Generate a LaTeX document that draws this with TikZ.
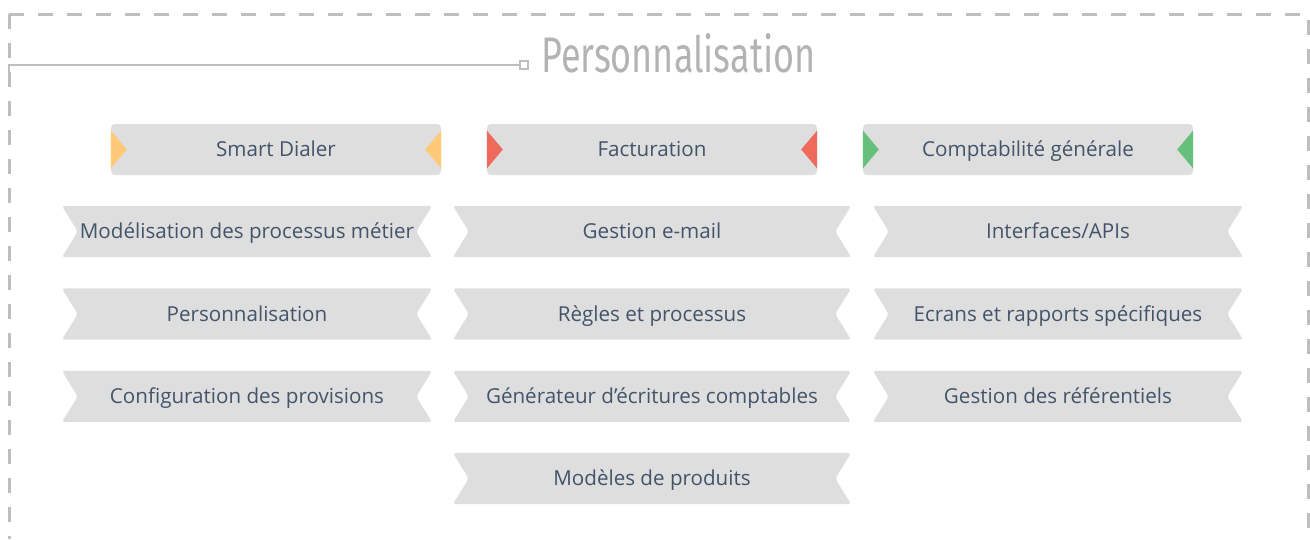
\documentclass[tikz,border=0pt]{standalone}
\usepackage{fontspec}
\setmainfont{Open Sans}
\newfontfamily\titlefont[FakeStretch=0.72]{Fira Sans}
\usetikzlibrary{backgrounds}
\definecolor{boxgray}{HTML}{DEDEDE}
\definecolor{linegray}{HTML}{BEBEBE}
\definecolor{titlegray}{HTML}{B3B3B3}
\definecolor{txtslate}{HTML}{43546A}
\definecolor{dialeryellow}{HTML}{FFC978}
\definecolor{factred}{HTML}{EE6B5B}
\definecolor{comptagreen}{HTML}{66BF7B}
\tikzset{
  headbox/.style={fill=boxgray, rounded corners=4, minimum width=330, minimum height=51, inner sep=0, text height=14.7, text depth=0, text=txtslate, font=\fontsize{20.6}{24}\selectfont},
  ribbon/.style={minimum height=51, inner sep=0, text height=14.7, text depth=0, text=txtslate, font=\fontsize{20.6}{24}\selectfont},
  frame/.style={linegray, line width=3, dash pattern=on 15 off 14}
}
\newcommand{\ribbonbox}[4]{
\node [ribbon, minimum width=#3] (#1) at (#2) {#4};
\begin{pgfonlayer}{background}
\fill [boxgray, rounded corners=3] (#1.north west) -- (#1.north east) -- ([xshift=-16]#1.east) -- (#1.south east) -- (#1.south west) -- ([xshift=16]#1.west) -- cycle;
\end{pgfonlayer}
}
\newcommand{\tabs}[2]{
\fill [#2] ([yshift=19]#1.west) -- ([xshift=16]#1.west) -- ([yshift=-19]#1.west) -- cycle;
\fill [#2] ([yshift=19]#1.east) -- ([xshift=-16]#1.east) -- ([yshift=-19]#1.east) -- cycle;
}
\begin{document}
\begin{tikzpicture}[x=1pt, y=-1pt]
\useasboundingbox (0,0) rectangle (1310,539);
\draw [frame] (9,14) -- (9,539);
\draw [frame] (9,14) -- (1308,14) -- (1308,539);
\node [anchor=base west, inner sep=0, text=titlegray, font=\titlefont\fontsize{50}{50}\selectfont] (title) at (541,72) {Personnalisation};
\node [draw=linegray, line width=2, fill=white, minimum size=8, inner sep=0] (knot) at (524,65) {};
\coordinate (corner) at (9,75);
\draw [linegray, line width=2.5] (corner) |- (knot.west);
\node [headbox] (dialer) at (276,149.5) {Smart Dialer};
\node [headbox] (factu) at (652,149.5) {Facturation};
\node [headbox] (compta) at (1028,149.5) {Comptabilité générale};
\tabs{dialer}{dialeryellow}
\tabs{factu}{factred}
\tabs{compta}{comptagreen}
\ribbonbox{modproc}{247,231.5}{370}{Modélisation des processus métier}
\ribbonbox{perso}{247,314}{370}{Personnalisation}
\ribbonbox{provis}{247,396.5}{370}{Configuration des provisions}
\ribbonbox{email}{652,231.5}{398}{Gestion e-mail}
\ribbonbox{regles}{652,314}{398}{Règles et processus}
\ribbonbox{generat}{652,396.5}{398}{Générateur d’écritures comptables}
\ribbonbox{modeles}{652,478.5}{398}{Modèles de produits}
\ribbonbox{apis}{1058,231.5}{370}{Interfaces/APIs}
\ribbonbox{ecrans}{1058,314}{370}{Ecrans et rapports spécifiques}
\ribbonbox{referen}{1058,396.5}{370}{Gestion des référentiels}
\end{tikzpicture}
\end{document}
